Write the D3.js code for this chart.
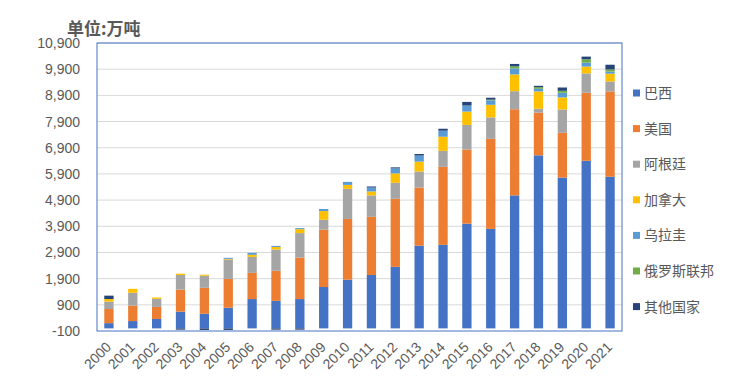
<!DOCTYPE html>
<html>
<head>
<meta charset="utf-8">
<script src="https://cdn.jsdelivr.net/npm/d3@7"></script>
<style>
  body { margin: 0; background: #fff; }
  svg { display: block; font-family: "Noto Sans CJK SC", "Liberation Sans", sans-serif; }
</style>
</head>
<body>
<svg id="chart" width="737" height="386"></svg>
<script>
// 单位: 万吨
var years = ["2000","2001","2002","2003","2004","2005","2006","2007","2008","2009","2010",
             "2011","2012","2013","2014","2015","2016","2017","2018","2019","2020","2021"];
var brazil    = [200,280,360,640,560,790,1120,1050,1120,1580,1860,2040,2350,3160,3190,4000,3800,5080,6610,5760,6400,5790];
var usa       = [540,590,460,840,990,1100,1000,1150,1580,2190,2320,2220,2600,2220,2980,2830,3440,3290,1630,1710,2600,3260];
var argentina = [280,490,310,560,460,740,610,810,940,380,1150,820,610,610,610,940,820,690,150,890,740,380];
var canada    = [100,150,50,50,40,25,80,100,150,330,150,150,360,380,540,510,480,640,660,460,260,300];
var uruguay   = [0,0,0,0,0,40,75,40,40,80,115,150,190,230,230,230,170,230,100,180,150,80];
var russia    = [0,0,0,0,0,0,0,0,0,0,0,0,0,0,0,0,25,80,65,75,130,80];
var others    = [130,0,0,-50,-60,-60,0,-50,-50,0,0,40,40,60,75,140,75,90,50,125,100,180];

var seriesNames = ["巴西","美国","阿根廷","加拿大","乌拉圭","俄罗斯联邦","其他国家"];
var seriesData = [brazil, usa, argentina, canada, uruguay, russia, others];
var colors = ["#4472C4","#ED7D31","#A5A5A5","#FFC000","#5B9BD5","#70AD47","#264478"];
var yTicks = d3.range(-100, 10901, 1000);

var rows = years.map(function (y, i) {
    var r = { year: y };
    seriesNames.forEach(function (n, k) { r[n] = seriesData[k][i]; });
    return r;
});

var svg = d3.select("#chart");
var plotL = 97, plotR = 622, plotT = 43, plotB = 331;

var x = d3.scaleBand().domain(years).range([plotL, plotR])
    .paddingInner(0.61).paddingOuter(0.305);
var y = d3.scaleLinear().domain([-100, 10900]).range([plotB, plotT]);

var fmt = d3.formatLocale({ decimal: ".", thousands: ",", grouping: [3], currency: ["", ""], minus: "-" }).format(",");

// gridlines
svg.append("g").selectAll("line")
    .data(yTicks.slice(1))
    .enter().append("line")
    .attr("x1", plotL).attr("x2", plotR)
    .attr("y1", function (d) { return y(d); })
    .attr("y2", function (d) { return y(d); })
    .attr("stroke", "#D9D9D9").attr("stroke-width", 1);

// y axis labels
var yAxis = svg.append("g")
    .attr("transform", "translate(" + plotL + ",0)")
    .call(d3.axisLeft(y).tickValues(yTicks).tickFormat(fmt).tickSize(0).tickPadding(17));
yAxis.select(".domain").remove();
yAxis.selectAll("text").attr("fill", "#595959").style("font-size", "14px")
    .style("font-family", "'Liberation Sans', Arial, sans-serif");

// bars
var stack = d3.stack().keys(seriesNames).offset(d3.stackOffsetDiverging);
var layers = stack(rows);

svg.append("g").selectAll("g")
    .data(layers)
    .enter().append("g")
    .attr("fill", function (d, i) { return colors[i]; })
    .selectAll("rect")
    .data(function (d) { return d; })
    .enter().append("rect")
    .attr("x", function (d) { return x(d.data.year); })
    .attr("width", x.bandwidth())
    .attr("y", function (d) { return y(Math.max(d[0], d[1])); })
    .attr("height", function (d) { return Math.abs(y(d[0]) - y(d[1])); });

// plot border
svg.append("rect")
    .attr("x", plotL).attr("y", plotT)
    .attr("width", plotR - plotL).attr("height", plotB - plotT)
    .attr("fill", "none").attr("stroke", "#4472C4").attr("stroke-width", 1);

// x labels
svg.append("g").selectAll("text")
    .data(years)
    .enter().append("text")
    .attr("transform", function (d) {
        return "translate(" + (x(d) + x.bandwidth() / 2 + 3) + "," + 348 + ") rotate(-45)";
    })
    .attr("text-anchor", "end")
    .attr("fill", "#595959")
    .style("font-size", "14px")
    .style("font-family", "'Liberation Sans', Arial, sans-serif")
    .text(function (d) { return d; });

// title
svg.append("text")
    .attr("x", 67).attr("y", 35)
    .attr("fill", "#595959")
    .style("font-size", "17px")
    .style("font-weight", "bold")
    .text("单位:万吨");

// legend
var legend = svg.append("g").selectAll("g")
    .data(seriesNames)
    .enter().append("g")
    .attr("transform", function (d, i) { return "translate(633," + (93 + i * 35.6) + ")"; });
legend.append("rect")
    .attr("x", 0).attr("y", -3.5).attr("width", 7).attr("height", 7)
    .attr("fill", function (d, i) { return colors[i]; });
legend.append("text")
    .attr("x", 11).attr("dy", "0.35em")
    .attr("fill", "#595959")
    .style("font-size", "14px")
    .text(function (d) { return d; });
</script>
</body>
</html>
